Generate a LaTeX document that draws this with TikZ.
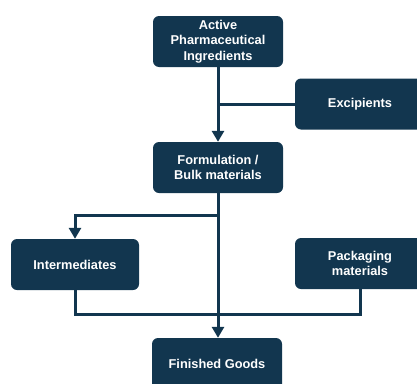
\documentclass[tikz,border=0pt]{standalone}
\usepackage{fontspec}
\setmainfont{Liberation Sans}
\usetikzlibrary{arrows.meta}
\definecolor{navy}{RGB}{18,54,79}
\tikzset{
  stage/.style={draw=none, fill=navy, rounded corners=6pt, minimum width=130pt,
    minimum height=51pt, align=center, text=white, inner sep=2pt,
    font=\bfseries\fontsize{12.8}{15.5}\selectfont},
  link/.style={draw=navy, line width=3pt},
  arrowlink/.style={link, -{Triangle[width=12pt,length=11pt]}}
}
\begin{document}
\begin{tikzpicture}[x=1pt, y=-1pt]
  \useasboundingbox (0,0) rectangle (417,383);
  \clip (0,0) rectangle (417,383);

  % process stages
  \node[stage] (api)  at (218,41.5)  {Active\\Pharmaceutical\\Ingredients};
  \node[stage] (exc)  at (360,104)   {Excipients};
  \node[stage] (form) at (218,167.5) {Formulation /\\Bulk materials};
  \node[stage, minimum width=128pt] (int) at (75,264.5) {Intermediates};
  \node[stage] (pack) at (360,263.5) {Packaging\\materials};
  \node[stage, minimum height=52pt] (fin) at (217,364) {Finished Goods};

  % junction points on the main line
  \coordinate (j1) at (218,104);
  \coordinate (j2) at (218,215);
  \coordinate (j3) at (218,314);

  % connectors
  \draw[arrowlink] (api.south) -- (form.north);
  \draw[link] (exc.west) -- (j1);
  \draw[arrowlink] (form.south) -- (form.south |- fin.north);
  \draw[arrowlink] (j2) -| (int.north);
  \draw[link] (int.south) |- (j3) -| (pack.south);
\end{tikzpicture}
\end{document}
